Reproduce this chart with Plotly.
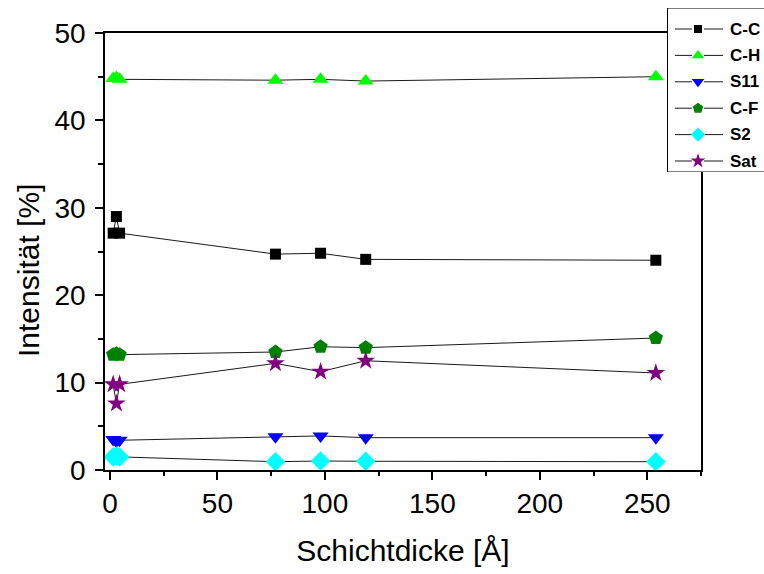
import plotly.graph_objects as go

# Layer thickness in Angstrom
thickness = [1.5, 3, 4.5, 77, 98, 119, 254]

# Peak intensities in percent
cc = [27.1, 29.0, 27.1, 24.7, 24.8, 24.1, 24.0]
ch = [44.8, 44.9, 44.7, 44.6, 44.7, 44.5, 45.0]
s11 = [3.5, 3.3, 3.4, 3.8, 3.9, 3.7, 3.7]
cf = [13.2, 13.3, 13.2, 13.5, 14.1, 14.0, 15.1]
s2 = [1.5, 1.6, 1.5, 0.95, 1.03, 1.0, 0.95]
sat = [9.8, 7.6, 9.8, 12.2, 11.25, 12.5, 11.1]

series_names = ["C-C", "C-H", "S11", "C-F", "S2", "Sat"]
series_values = [cc, ch, s11, cf, s2, sat]
symbols = ["square", "triangle-up", "triangle-down", "pentagon", "diamond", "star"]
colors = ["black", "#00ff00", "#0000ff", "#008000", "#00ffff", "#800080"]
plot_sizes = [11, 14, 14, 15, 15, 14]
key_sizes = [8, 11, 11, 11, 11, 11]

FONT = "Liberation Sans, Arial, sans-serif"
LINE = "#1a1a1a"

# Canvas geometry (pixels)
W, H = 764, 574
ML, MB = 105, 104
PLOT_RIGHT, PLOT_TOP = 701, 33
paper_w, paper_h = W - ML, H - MB
x_dom = [0, (PLOT_RIGHT - ML) / paper_w]
y_dom = [0, (H - MB - PLOT_TOP) / paper_h]

# Key box geometry (pixels)
KEY_LEFT, KEY_RIGHT, KEY_TOP, KEY_BOTTOM = 667, W, 8, 172
ROW0, ROW_STEP = 29, 26.4

# Y title placement (pixels)
YTITLE_X, YTITLE_Y = 28, 271

fig = go.Figure()
for name, vals, sym, col, sz in zip(series_names, series_values, symbols, colors, plot_sizes):
    fig.add_trace(go.Scatter(
        x=thickness, y=vals, name=name, mode="lines+markers", showlegend=False,
        line=dict(color=LINE, width=1),
        marker=dict(symbol=sym, color=col, size=sz, line=dict(width=0)),
    ))

# Key: line - marker - line, followed by the label, on an overlay pixel axis
for i, (name, sym, col, sz) in enumerate(zip(series_names, symbols, colors, key_sizes)):
    yr = ROW0 + i * ROW_STEP
    for xa, xb in ((675, 692), (704, 723)):
        fig.add_trace(go.Scatter(
            x=[xa, xb], y=[yr, yr], mode="lines", showlegend=False, hoverinfo="skip",
            line=dict(color=LINE, width=1), xaxis="x2", yaxis="y2", cliponaxis=False,
        ))
    fig.add_trace(go.Scatter(
        x=[698], y=[yr], mode="markers", showlegend=False, hoverinfo="skip",
        marker=dict(symbol=sym, color=col, size=sz, line=dict(width=0)),
        xaxis="x2", yaxis="y2", cliponaxis=False,
    ))
    fig.add_annotation(
        x=728, y=yr, xref="x2", yref="y2", text=f"<b>{name}</b>", showarrow=False,
        xanchor="left", yanchor="middle", font=dict(family=FONT, size=17, color="black"),
    )

fig.add_shape(
    type="rect", xref="x2", yref="y2", x0=KEY_LEFT + 0.5, x1=KEY_RIGHT + 5,
    y0=KEY_TOP, y1=KEY_BOTTOM, line=dict(color="black", width=1), fillcolor="white",
    layer="below",
)

# Y axis title
fig.add_annotation(
    x=(YTITLE_X - ML) / paper_w, y=(H - MB - YTITLE_Y) / paper_h,
    xref="paper", yref="paper", text="Intensität [%]", textangle=-90,
    showarrow=False, xanchor="center", yanchor="middle",
    font=dict(family=FONT, size=30, color="black"),
)

fig.update_layout(
    width=W, height=H,
    margin=dict(l=ML, r=0, t=0, b=MB, autoexpand=False),
    paper_bgcolor="white", plot_bgcolor="rgba(0,0,0,0)",
    font=dict(family=FONT, color="black", size=28),
    showlegend=False,
    xaxis=dict(
        domain=x_dom, range=[-2.3, 275], showgrid=False, zeroline=False,
        showline=True, linecolor="black", linewidth=1.5, mirror=True,
        ticks="outside", ticklen=8, tickwidth=1.5, tickcolor="black",
        tick0=0, dtick=50,
        minor=dict(ticks="outside", ticklen=4, tickwidth=1.5, tickcolor="black",
                   dtick=25, showgrid=False),
        tickfont=dict(size=28),
        title=dict(text="Schichtdicke [Å]", font=dict(size=30), standoff=22),
        anchor="y",
    ),
    yaxis=dict(
        domain=y_dom, range=[0, 50], showgrid=False, zeroline=False,
        showline=True, linecolor="black", linewidth=1.5, mirror=True,
        ticks="outside", ticklen=8, tickwidth=1.5, tickcolor="black",
        tick0=0, dtick=10, ticklabelstandoff=4,
        minor=dict(ticks="outside", ticklen=5, tickwidth=1.5, tickcolor="black",
                   dtick=5, showgrid=False),
        tickfont=dict(size=28),
        anchor="x",
    ),
    xaxis2=dict(domain=[(KEY_LEFT - ML) / paper_w, 1], range=[KEY_LEFT, W],
                anchor="y2", visible=False, fixedrange=True),
    yaxis2=dict(domain=[(H - MB - KEY_BOTTOM) / paper_h, (H - MB - KEY_TOP) / paper_h],
                range=[KEY_BOTTOM, KEY_TOP], anchor="x2", visible=False, fixedrange=True),
)

fig.write_html("out.html")
